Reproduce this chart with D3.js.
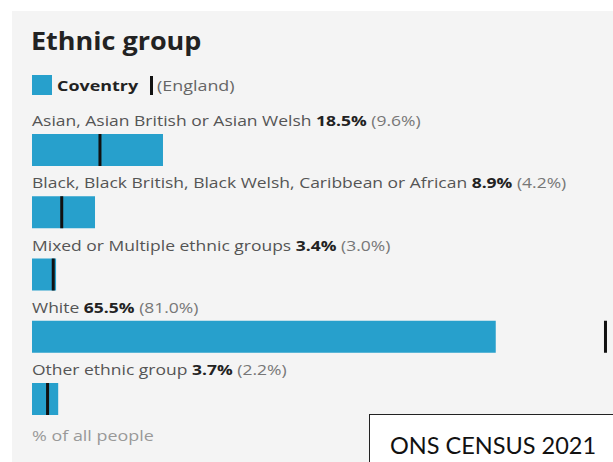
<!DOCTYPE html>
<html>
<head>
<meta charset="utf-8">
<script src="https://cdn.jsdelivr.net/npm/d3@7"></script>
<style>
  html, body { margin: 0; padding: 0; background: #ffffff; }
  svg { display: block; }
</style>
</head>
<body>
<svg id="chart" width="613" height="462"></svg>
<script>
// Ethnic group breakdown for Coventry, with England shown as a marker
const categories = [
  "Asian, Asian British or Asian Welsh",
  "Black, Black British, Black Welsh, Caribbean or African",
  "Mixed or Multiple ethnic groups",
  "White",
  "Other ethnic group"
];
const coventry = [18.5, 8.9, 3.4, 65.5, 3.7];
const england = [9.6, 4.2, 3.0, 81.0, 2.2];

const W = 613, H = 462;
const svg = d3.select("#chart");
const font = "'Open Sans', sans-serif";
const blue = "#27a0cc";
const sx = 1.28;   // horizontal stretch of legend / footnote text
const sxl = 1.25;  // horizontal stretch of row labels

// place a text element at (px, py) with horizontal stretch k
const at = (px, py, k) => `translate(${px},${py}) scale(${k},1)`;

// panel background
svg.append("rect").attr("x", 12).attr("y", 11).attr("width", W - 12).attr("height", H - 11)
  .attr("fill", "#f4f4f4");

// title
svg.append("text").attr("transform", at(31, 50, 1.08))
  .attr("font-family", font).attr("font-weight", 700).attr("font-size", 25)
  .attr("fill", "#222").text("Ethnic group");

// legend
const lg = svg.append("g").attr("font-family", font).attr("font-size", 14);
lg.append("rect").attr("x", 32).attr("y", 75).attr("width", 20).attr("height", 20).attr("fill", blue);
lg.append("text").attr("transform", at(57, 91, sx)).attr("font-weight", 700).attr("fill", "#222").text("Coventry");
lg.append("rect").attr("x", 150).attr("y", 76).attr("width", 3).attr("height", 19).attr("fill", "#111");
lg.append("text").attr("transform", at(157, 91, sx)).attr("fill", "#666").text("(England)");

// scales
const x = d3.scaleLinear().domain([0, 100]).range([32, 32 + 708]);
const y = d3.scaleBand().domain(categories).range([103, 103 + 62.25 * categories.length]).padding(0);
const barTop = 31, barH = 32;

const rows = svg.append("g").selectAll("g").data(categories).join("g")
  .attr("transform", d => `translate(0,${y(d)})`);

const lbl = rows.append("text").attr("transform", at(32, 23, sxl))
  .attr("font-family", font).attr("font-size", 14).attr("fill", "#555");
lbl.append("tspan").text(d => d + " ");
lbl.append("tspan").attr("font-weight", 700).attr("fill", "#222")
  .text((d, i) => coventry[i].toFixed(1) + "%");
lbl.append("tspan").attr("fill", "#777").text((d, i) => " (" + england[i].toFixed(1) + "%)");

rows.append("rect").attr("x", x(0)).attr("y", barTop)
  .attr("width", (d, i) => x(coventry[i]) - x(0)).attr("height", barH).attr("fill", blue);

rows.append("rect").attr("x", (d, i) => x(england[i]) - 1.5).attr("y", barTop)
  .attr("width", 3).attr("height", barH).attr("fill", "#111");

// footnote
svg.append("text").attr("transform", at(32, 441, sx))
  .attr("font-family", font).attr("font-size", 14).attr("fill", "#999").text("% of all people");

// source box
svg.append("rect").attr("x", 369.5).attr("y", 414.5).attr("width", 260).attr("height", 60)
  .attr("fill", "#fff").attr("stroke", "#222").attr("stroke-width", 1);
svg.append("text").attr("x", 390).attr("y", 454)
  .attr("font-family", "Lato, sans-serif").attr("font-size", 23.5).attr("fill", "#111")
  .text("ONS CENSUS 2021");
</script>
</body>
</html>
